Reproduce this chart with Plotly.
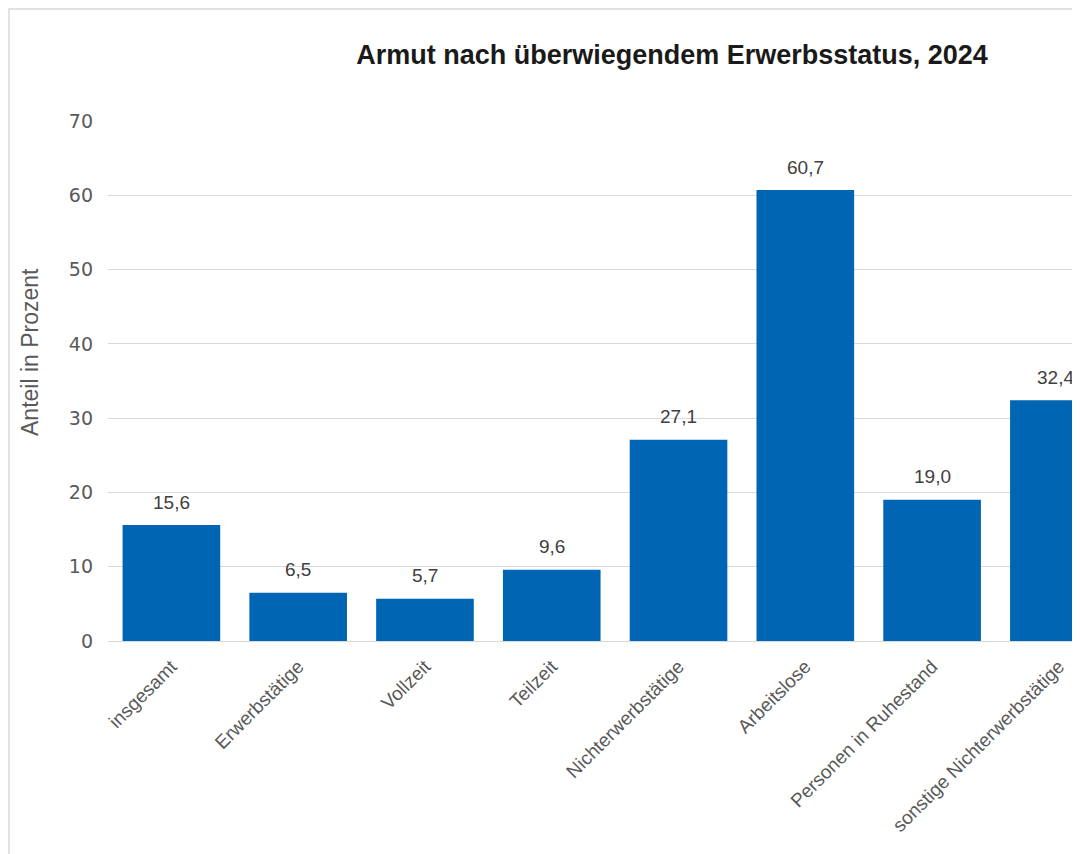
import plotly.graph_objects as go

categories = ["insgesamt", "Erwerbstätige", "Vollzeit", "Teilzeit", "Nichterwerbstätige",
              "Arbeitslose", "Personen in Ruhestand", "sonstige Nichterwerbstätige"]
values = [15.6, 6.5, 5.7, 9.6, 27.1, 60.7, 19.0, 32.4]
labels = [f"{v:.1f}".replace(".", ",") for v in values]
y_ticks = [0, 10, 20, 30, 40, 50, 60, 70]

xs = list(range(len(categories)))
X_MAX = 7.135

fig = go.Figure()
fig.add_trace(go.Bar(
    x=xs, y=values,
    marker=dict(color="#0066b3", line=dict(width=0)),
    width=0.77, hoverinfo="skip",
))

annotations = []
for i, (x, v, t) in enumerate(zip(xs, values, labels)):
    last = i == len(xs) - 1
    annotations.append(dict(
        x=X_MAX if last else x, y=v, text=t, showarrow=False,
        xanchor="right" if last else "center", yanchor="middle", yshift=23,
        font=dict(family="Liberation Sans, Arial, sans-serif", size=19, color="#404040"),
    ))

# y-axis title
annotations.append(dict(
    x=(22 - 100) / 968, y=(633 - 344) / 520, xref="paper", yref="paper",
    text="Anteil in Prozent", textangle=-90, showarrow=False,
    xanchor="center", yanchor="middle",
    font=dict(family="Liberation Sans, Arial, sans-serif", size=23, color="#595959"),
))

fig.update_layout(
    width=1080, height=854,
    margin=dict(l=100, r=12, t=113, b=221),
    paper_bgcolor="white", plot_bgcolor="white",
    showlegend=False,
    title=dict(text="<b>Armut nach überwiegendem Erwerbsstatus, 2024</b>",
               x=664/1080, xanchor="center", y=1-47/854, yanchor="middle",
               font=dict(family="Liberation Sans, Arial, sans-serif", size=27, color="#1a1a1a")),
    xaxis=dict(
        tickmode="array", tickvals=xs, ticktext=categories,
        range=[-0.5, X_MAX], tickangle=-45,
        tickfont=dict(family="Liberation Sans, Arial, sans-serif", size=19, color="#595959"),
        showgrid=False, showline=True, linecolor="#d9d9d9", linewidth=1,
        ticks="", zeroline=False, ticklabelstandoff=6,
    ),
    yaxis=dict(
        range=[0, 70], tickvals=y_ticks,
        tickfont=dict(family="DejaVu Sans, sans-serif", size=19, color="#595959"),
        showgrid=True, gridcolor="#d9d9d9", gridwidth=1, zeroline=False,
        ticklabelstandoff=14,
    ),
    annotations=annotations,
    shapes=[dict(type="rect", xref="paper", yref="paper",
                 x0=(1 - 100) / 968, x1=1.2, y0=-0.6, y1=(633 - 1) / 520,
                 line=dict(color="#d9d9d9", width=1.5), fillcolor="rgba(0,0,0,0)", layer="below")],
)

fig.write_html("out.html")
